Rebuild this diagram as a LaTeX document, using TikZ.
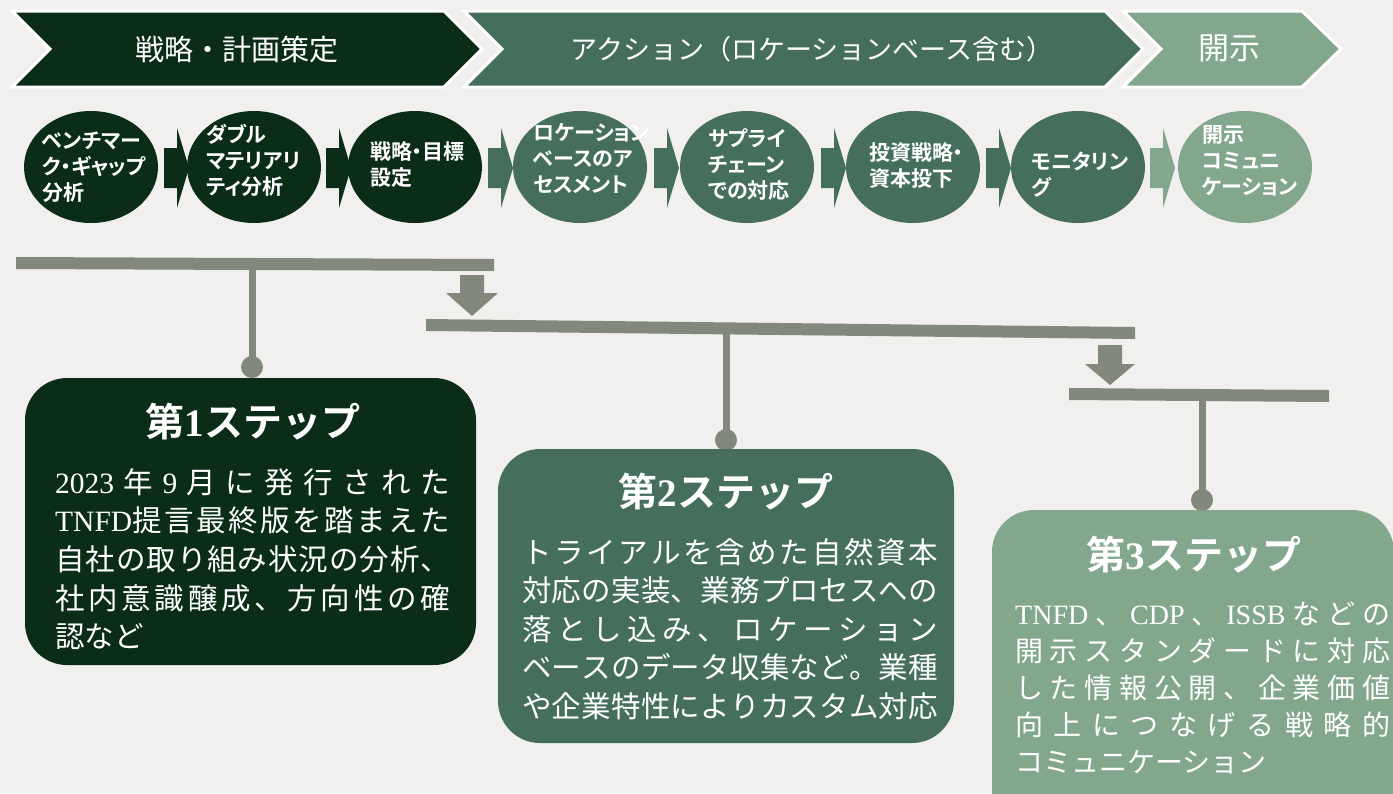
\documentclass[tikz,border=0pt]{standalone}
\usepackage{fontspec}
\usetikzlibrary{shapes.geometric}
\setmainfont{Noto Sans CJK JP}
\newfontfamily\jpr{Noto Sans CJK JP}
\newfontfamily\jpb{Noto Sans CJK JP Bold}
\newfontfamily\jpp[RawFeature=+palt]{Noto Sans CJK JP Bold}
\newfontfamily\lt{Liberation Serif}
\newfontfamily\ltb{Liberation Serif Bold}
\newcommand\lat[1]{{\lt #1}}
\newcommand\dg[1]{{\ltb #1}}
\newcommand\spr[2]{\makebox[#1][s]{\spaceskip=0pt plus 1fil\xspaceskip=0pt plus 1fil\relax #2}}
\definecolor{bgc}{HTML}{F1F0EE}
\definecolor{darkg}{HTML}{0B2D17}
\definecolor{midg}{HTML}{456E5D}
\definecolor{lightg}{HTML}{83A78C}
\definecolor{grayc}{HTML}{83887C}
\begin{document}
\begin{tikzpicture}[x=1pt,y=-1pt,
  chev/.style={draw=white, line width=3pt, line join=miter},
  bantext/.style={text=white, inner sep=0, font=\jpr\fontsize{#1}{#1}\selectfont},
  circ/.style={ellipse, minimum width=134pt, minimum height=112pt, inner sep=0},
  ctext/.style={text=white, align=left, anchor=west, inner sep=0, font=\jpp\fontsize{21}{26}\selectfont},
  stem/.style={draw=grayc, line width=7pt},
  dotn/.style={circle, fill=grayc, minimum size=22pt, inner sep=0},
  box/.style={rounded corners=42pt, inner sep=0},
  ttl/.style={text=white, inner sep=0, font=\jpb\fontsize{39}{40}\selectfont},
  body/.style={text=white, inner sep=0, anchor=base west, font=\jpr\fontsize{29.5}{30}\selectfont},
  body3/.style={text=white, inner sep=0, anchor=base west, font=\jpr\fontsize{28}{30}\selectfont}]
\useasboundingbox (0,0) rectangle (1393,793);
\fill[bgc] (0,0) rectangle (1393,793);
\clip (0,0) rectangle (1393,793);

% ---- banner chevrons
\filldraw[chev, fill=darkg] (12,11) -- (444,11) -- (482,49) -- (444,87) -- (12,87) -- (50,49) -- cycle;
\filldraw[chev, fill=midg] (464,11) -- (1105,11) -- (1143,49) -- (1105,87) -- (464,87) -- (502,49) -- cycle;
\filldraw[chev, fill=lightg] (1123,11) -- (1302,11) -- (1341,49) -- (1302,87) -- (1123,87) -- (1161,49) -- cycle;
\node[bantext=29] (ban1) at (237,49) {戦略・計画策定};
\node[bantext=27] (ban2) at (812,49) {アクション（ロケーションベース含む）};
\node[bantext=31] (ban3) at (1229,48) {開示};

% ---- process circles
\node[circ, fill=darkg] (c1) at (91,167) {};
\node[circ, fill=darkg] (c2) at (254,167) {};
\node[circ, fill=darkg] (c3) at (415,167) {};
\node[circ, fill=midg] (c4) at (580,167) {};
\node[circ, fill=midg] (c5) at (747,167) {};
\node[circ, fill=midg] (c6) at (913,167) {};
\node[circ, fill=midg] (c7) at (1078,167) {};
\node[circ, fill=lightg] (c8) at (1245,167) {};

\node[ctext] (t1) at (42,167) {ベンチマー\\ク・ギャップ\\分析};
\node[ctext] (t2) at (206,160) {ダブル\\マテリアリ\\ティ分析};
\node[ctext] (t3) at (370,165) {戦略・目標\\設定};
\node[ctext] (t4) at (533,158) {ロケーション\\ベースのア\\セスメント};
\node[ctext] (t5) at (708,164) {サプライ\\チェーン\\での対応};
\node[ctext] (t6) at (869,166) {投資戦略・\\資本投下};
\node[ctext] (t7) at (1031,175) {モニタリン\\グ};
\node[ctext] (t8) at (1202,161) {開示\\コミュニ\\ケーション};

% ---- small block arrows between circles
\foreach \a/\col in {164/darkg, 326/darkg, 488/midg, 654/midg, 821/midg, 986/midg, 1150/lightg}{
  \fill[\col] (\a,148) -- (\a+13,148) -- (\a+13,128) -- (\a+25,168) -- (\a+13,208) -- (\a+13,188) -- (\a,188) -- cycle;
}

% ---- bars, stems, down arrows
\fill[grayc] (16,257) -- (494,259) -- (494,271) -- (16,269) -- cycle;
\fill[grayc] (426,319) -- (1135,327) -- (1135,339) -- (426,331) -- cycle;
\fill[grayc] (1069,388) -- (1329,390) -- (1329,402) -- (1069,400) -- cycle;
\fill[grayc] (460,275) -- (484,275) -- (484,293) -- (498,293) -- (472,316) -- (446,293) -- (460,293) -- cycle;
\fill[grayc] (1098,345) -- (1122,345) -- (1122,364) -- (1135,364) -- (1110,385) -- (1085,364) -- (1098,364) -- cycle;

\coordinate (s1) at (252,268);
\coordinate (s2) at (726,333);
\coordinate (s3) at (1202,400);
\node[dotn] (d1) at (252,367) {};
\node[dotn] (d2) at (726,440) {};
\node[dotn] (d3) at (1202,500) {};
\draw[stem] (s1) -- (d1.center);
\draw[stem] (s2) -- (d2.center);
\draw[stem] (s3) -- (d3.center);

% ---- step boxes
\node[box, fill=darkg, minimum width=451pt, minimum height=287pt] (b1) at (250.5,521.5) {};
\node[box, fill=midg, minimum width=456pt, minimum height=294pt] (b2) at (726,596) {};
\node[box, fill=lightg, minimum width=402pt, minimum height=330pt] (b3) at (1193,675) {};

\node[ttl] (h1) at (253,422) {第\dg{1}ステップ};
\node[ttl] (h2) at (726,492) {第\dg{2}ステップ};
\node[ttl] (h3) at (1194,555) {第\dg{3}ステップ};

% box 1 text
\node[body] (l11) at (55,493) {\spr{395pt}{\lat{2023} 年 \lat{9} 月 に 発 行 さ れ た}};
\node[body] (l12) at (55,531.7) {\spr{395pt}{\lat{TNFD}提 言 最 終 版 を 踏 ま え た}};
\node[body] (l13) at (55,570.4) {\spr{395pt}{自 社 の 取 り 組 み 状 況 の 分 析 、}};
\node[body] (l14) at (55,609) {\spr{395pt}{社 内 意 識 醸 成 、 方 向 性 の 確}};
\node[body] (l15) at (55,647.8) {認など};

% box 2 text
\node[body] (l21) at (522,563) {\spr{416pt}{ト ラ イ ア ル を 含 め た 自 然 資 本}};
\node[body] (l22) at (522,601.5) {\spr{416pt}{対 応 の 実 装 、 業 務 プ ロ セ ス へ の}};
\node[body] (l23) at (522,640) {\spr{416pt}{落 と し 込 み 、 ロ ケ ー シ ョ ン}};
\node[body] (l24) at (522,678.5) {\spr{416pt}{ベ ー ス の デ ー タ 収 集 な ど 。 業 種}};
\node[body] (l25) at (522,717) {\spr{416pt}{や 企 業 特 性 に よ り カ ス タ ム 対 応}};

% box 3 text
\node[body3] (l31) at (1015,624.5) {\spr{375pt}{\lat{TNFD} 、 \lat{CDP} 、 \lat{ISSB} な ど の}};
\node[body3] (l32) at (1015,661.5) {\spr{375pt}{開 示 ス タ ン ダ ー ド に 対 応}};
\node[body3] (l33) at (1015,698.5) {\spr{375pt}{し た 情 報 公 開 、 企 業 価 値}};
\node[body3] (l34) at (1015,735.5) {\spr{375pt}{向 上 に つ な げ る 戦 略 的}};
\node[body3] (l35) at (1015,772.5) {コミュニケーション};
\end{tikzpicture}
\end{document}
